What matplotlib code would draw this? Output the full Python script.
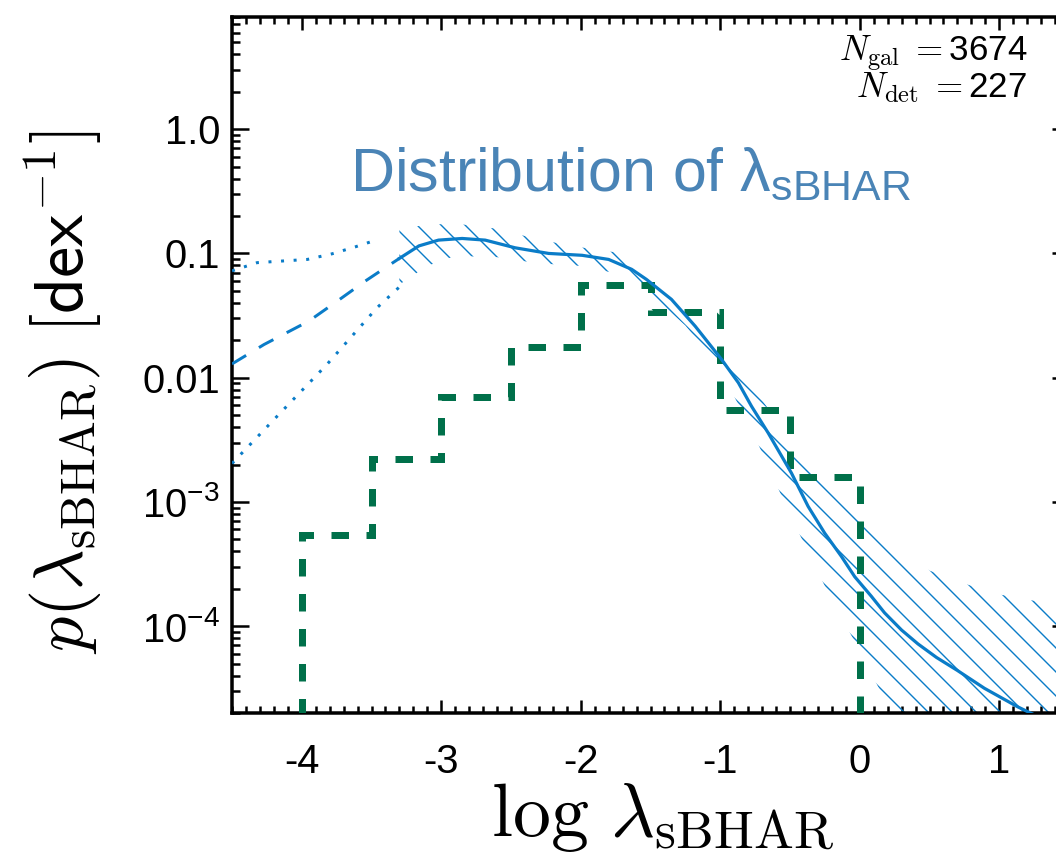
import numpy as np
import matplotlib
matplotlib.use('Agg')
import matplotlib.pyplot as plt
from matplotlib.ticker import FixedLocator, FixedFormatter, LogLocator, MultipleLocator, NullFormatter

plt.rcParams['font.family'] = ['Liberation Sans', 'DejaVu Sans']
plt.rcParams['mathtext.fontset'] = 'custom'
plt.rcParams['mathtext.rm'] = 'Liberation Sans'
plt.rcParams['mathtext.it'] = 'Liberation Sans:italic'
plt.rcParams['mathtext.bf'] = 'Liberation Sans:bold'
plt.rcParams['mathtext.sf'] = 'Liberation Sans'
plt.rcParams['hatch.linewidth'] = 1.4

# ---------------- data ----------------
# median of p(lambda_sBHAR)
median_x = [-3.3, -3.16, -3.02, -2.85, -2.685, -2.47, -2.23, -1.99, -1.80, -1.635,
            -1.53, -1.35, -1.18, -0.99, -0.87, -0.776, -0.657, -0.49, -0.37, -0.251,
            -0.132, -0.036, 0.083, 0.178, 0.3, 0.417, 0.55, 0.7, 0.894, 1.133, 1.3, 1.5]
median_p = [0.0912, 0.115, 0.128, 0.132, 0.128, 0.111, 0.100, 0.0966, 0.0895, 0.0745,
            0.0619, 0.0427, 0.0260, 0.0140, 0.00910, 0.00589, 0.00360, 0.00171, 9.2e-4, 5.6e-4,
            3.65e-4, 2.5e-4, 1.74e-4, 1.28e-4, 9.3e-5, 7.2e-5, 5.6e-5, 4.4e-5, 3.16e-5, 2.24e-5,
            1.82e-5, 1.48e-5]

# uncertainty band
band_x = [-3.3, -3.1, -2.9, -2.6, -2.3, -2.0, -1.75, -1.5, -1.25, -1.0,
          -0.75, -0.5, -0.25, 0.0, 0.25, 0.5, 0.75, 1.0, 1.25, 1.5]
band_hi = [0.158, 0.170, 0.174, 0.158, 0.129, 0.112, 0.102, 0.0759, 0.0380, 0.0182,
           0.00794, 0.00316, 0.00132, 7.1e-4, 4.2e-4, 2.8e-4, 2.2e-4, 1.8e-4, 1.6e-4, 1.45e-4]
band_lo = [0.0562, 0.0794, 0.0955, 0.0933, 0.0832, 0.0794, 0.0692, 0.0468, 0.0263, 0.0117,
           0.00331, 7.9e-4, 2.1e-4, 6.3e-5, 1.8e-5, 5e-6, 1.6e-6, 6.3e-7, 3.2e-7, 1.6e-7]

# extrapolation below the detection limit
ext_med_x = [-4.5, -4.27, -3.95, -3.746, -3.544, -3.40, -3.3]
ext_med_p = [0.0129, 0.0185, 0.0285, 0.0413, 0.0600, 0.0769, 0.0912]
ext_hi_x = [-4.5, -4.32, -4.14, -3.96, -3.78, -3.616, -3.45]
ext_hi_p = [0.0724, 0.0843, 0.0869, 0.0895, 0.0995, 0.113, 0.130]
ext_lo_x = [-4.5, -4.176, -3.82, -3.46, -3.3]
ext_lo_p = [2.04e-3, 4.9e-3, 0.01276, 0.0366, 0.0537]

# histogram of detections
hist_edges = [-4.0, -3.5, -3.0, -2.5, -2.0, -1.5, -1.0, -0.5, 0.0]
hist_vals = [5.4e-4, 2.2e-3, 7.0e-3, 0.0175, 0.056, 0.034, 0.0055, 0.0016]

xtick_vals = [-4, -3, -2, -1, 0, 1]
xtick_labels = ['-4', '-3', '-2', '-1', '0', '1']
ytick_vals = [1e-4, 1e-3, 1e-2, 0.1, 1.0]
ytick_labels = ['10$^{-4}$', '10$^{-3}$', '0.01', '0.1', '1.0']

n_gal = 3674
n_det = 227

# ---------------- figure ----------------
BLUE = '#0a7cc8'
GREEN = '#00704a'
TXT_BLUE = '#4a84b6'

W, H, DPI = 1056, 855, 72
fig = plt.figure(figsize=(W / DPI, H / DPI), dpi=DPI)
ax = fig.add_axes([232 / W, 1 - 713 / H, (1069 - 232) / W, (713 - 17) / H])
ax.set_yscale('log')
ax.set_xlim(-4.5, 1.5)
ax.set_ylim(2e-5, 8)

ax.fill_between(band_x, band_lo, band_hi, facecolor='none', edgecolor=BLUE,
                hatch='\\', linewidth=0, zorder=2)

ax.stairs(hist_vals, hist_edges, baseline=1e-8, color=GREEN, lw=7,
          linestyle=(0, (2.5, 2.5)), zorder=3)

ax.plot(median_x, median_p, color=BLUE, lw=3.2, zorder=4, solid_joinstyle='round')
ax.plot(ext_med_x, ext_med_p, color=BLUE, lw=3, linestyle=(0, (5.5, 5)), zorder=4)
ax.plot(ext_hi_x, ext_hi_p, color=BLUE, lw=3, linestyle=(0, (1, 3.2)), zorder=4)
ax.plot(ext_lo_x, ext_lo_p, color=BLUE, lw=3, linestyle=(0, (1, 3.2)), zorder=4)

ax.xaxis.set_major_locator(FixedLocator(xtick_vals))
ax.xaxis.set_major_formatter(FixedFormatter(xtick_labels))
ax.xaxis.set_minor_locator(MultipleLocator(0.1))
ax.yaxis.set_major_locator(FixedLocator(ytick_vals))
ax.yaxis.set_major_formatter(FixedFormatter(ytick_labels))
ax.yaxis.set_minor_locator(LogLocator(base=10, subs=np.arange(2, 10) * 1.0, numticks=30))
ax.yaxis.set_minor_formatter(NullFormatter())

ax.tick_params(which='both', direction='in', top=True, right=True, width=2.5, labelsize=40)
ax.tick_params(axis='x', which='major', length=13, pad=30)
ax.tick_params(axis='x', which='minor', length=7)
ax.tick_params(axis='y', which='major', length=17, pad=12)
ax.tick_params(axis='y', which='minor', length=8)
for s in ax.spines.values():
    s.set_linewidth(3.5)

fig.text(350 / W, 1 - 190 / H, 'Distribution of λ$_{\\rm sBHAR}$', fontsize=61,
         color=TXT_BLUE, ha='left', va='baseline')
fig.text(1027 / W, 1 - 61 / H, r'$N_{\rm gal}\;=$' + str(n_gal), fontsize=35,
         math_fontfamily='cm', ha='right', va='baseline')
fig.text(1027 / W, 1 - 97 / H, r'$N_{\rm det}\;=$' + str(n_det), fontsize=35,
         math_fontfamily='cm', ha='right', va='baseline')
fig.text(662 / W, 1 - 836 / H, r'$\log\,\lambda_{\rm sBHAR}$', fontsize=76,
         math_fontfamily='cm', ha='center', va='baseline')
fig.text(63 / W, 1 - 392 / H, r'$p(\lambda_{\rm sBHAR})\ [\mathsf{dex}^{-1}]$', fontsize=70,
         math_fontfamily='cm', rotation=90, ha='center', va='center')

fig.savefig('out.png', dpi=DPI)
